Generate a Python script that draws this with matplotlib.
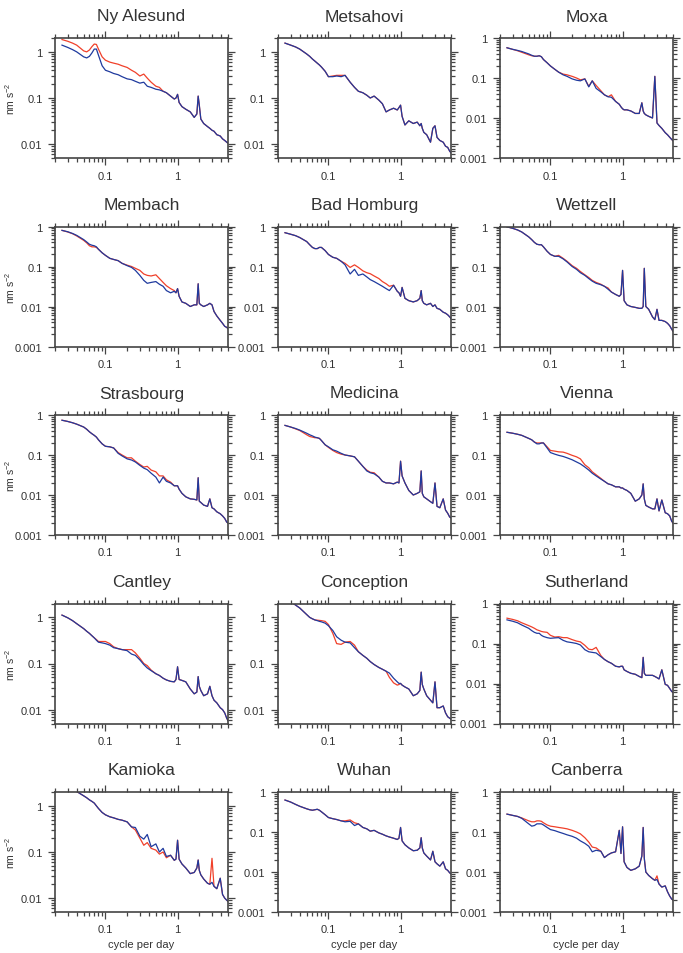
import numpy as np
import matplotlib
matplotlib.use("Agg")
import matplotlib.pyplot as plt
from matplotlib.ticker import LogLocator, FuncFormatter, NullFormatter

plt.rcParams['font.family'] = ['Liberation Sans', 'DejaVu Sans']
plt.rcParams['mathtext.default'] = 'regular'

# frequency grid (cycle per day)
freq = [0.025, 0.03, 0.035, 0.04, 0.05, 0.055, 0.06, 0.065, 0.07, 0.075, 0.08, 0.09, 0.1,
        0.115, 0.13, 0.15, 0.17, 0.2, 0.23, 0.26, 0.3, 0.34, 0.38, 0.43, 0.5, 0.56,
        0.63, 0.7, 0.8, 0.9, 0.95, 1.0, 1.05, 1.15, 1.3, 1.5, 1.7, 1.85, 1.93,
        2.0, 2.1, 2.3, 2.6, 2.8, 3.0, 3.2, 3.5, 3.9, 4.2, 4.5, 4.8, 5.0]

stations = ["Ny Alesund", "Metsahovi", "Moxa",
            "Membach", "Bad Homburg", "Wettzell",
            "Strasbourg", "Medicina", "Vienna",
            "Cantley", "Conception", "Sutherland",
            "Kamioka", "Wuhan", "Canberra"]

y_low = [0.005, 0.005, 0.001, 0.001, 0.001, 0.001, 0.001, 0.001, 0.001,
         0.005, 0.005, 0.001, 0.005, 0.001, 0.001]
y_high = [2, 2, 1, 1, 1, 1, 1, 1, 1, 2, 2, 1, 2, 1, 1]

ny_alesund_red = [1.85, 1.7, 1.55, 1.4, 1.05, 1.0, 1.1, 1.3, 1.48, 1.45, 1.15, 0.78, 0.66,
                  0.6, 0.57, 0.54, 0.5, 0.46, 0.4, 0.36, 0.3, 0.33, 0.27, 0.22, 0.18, 0.17,
                  0.14, 0.13, 0.11, 0.095, 0.1, 0.12, 0.08, 0.065, 0.057, 0.05, 0.038, 0.045, 0.11,
                  0.07, 0.035, 0.028, 0.024, 0.022, 0.02, 0.019, 0.016, 0.015, 0.013, 0.012, 0.011, 0.0105]
ny_alesund_blue = [1.4, 1.25, 1.12, 1.0, 0.78, 0.74, 0.8, 0.95, 1.15, 1.15, 0.85, 0.5, 0.4,
                   0.37, 0.34, 0.32, 0.29, 0.26, 0.25, 0.23, 0.21, 0.22, 0.18, 0.17, 0.155, 0.15,
                   0.14, 0.13, 0.11, 0.095, 0.1, 0.12, 0.08, 0.065, 0.057, 0.05, 0.038, 0.045, 0.11,
                   0.07, 0.035, 0.028, 0.024, 0.022, 0.02, 0.019, 0.016, 0.015, 0.013, 0.012, 0.011, 0.0105]

metsahovi_red = [1.55, 1.4, 1.28, 1.15, 0.9, 0.8, 0.7, 0.63, 0.57, 0.52, 0.47, 0.38, 0.29,
                 0.3, 0.31, 0.31, 0.31, 0.22, 0.17, 0.14, 0.13, 0.115, 0.1, 0.11, 0.09, 0.075,
                 0.05, 0.055, 0.06, 0.055, 0.062, 0.07, 0.04, 0.026, 0.032, 0.028, 0.03, 0.025, 0.028,
                 0.022, 0.018, 0.016, 0.011, 0.022, 0.025, 0.014, 0.012, 0.011, 0.009, 0.0085, 0.007, 0.0065]
metsahovi_blue = [1.55, 1.4, 1.28, 1.15, 0.9, 0.8, 0.7, 0.63, 0.57, 0.52, 0.47, 0.38, 0.29,
                  0.29, 0.3, 0.29, 0.31, 0.22, 0.17, 0.14, 0.13, 0.115, 0.1, 0.11, 0.09, 0.075,
                  0.05, 0.055, 0.06, 0.055, 0.062, 0.07, 0.04, 0.026, 0.032, 0.028, 0.03, 0.025, 0.028,
                  0.022, 0.018, 0.016, 0.011, 0.022, 0.025, 0.014, 0.012, 0.011, 0.009, 0.0085, 0.007, 0.0065]

moxa_red = [0.57, 0.52, 0.48, 0.44, 0.38, 0.36, 0.35, 0.35, 0.36, 0.34, 0.29, 0.24, 0.2,
            0.165, 0.14, 0.125, 0.12, 0.11, 0.1, 0.09, 0.095, 0.062, 0.085, 0.065, 0.048, 0.038,
            0.034, 0.038, 0.026, 0.022, 0.019, 0.017, 0.016, 0.016, 0.015, 0.013, 0.013, 0.024, 0.015,
            0.013, 0.012, 0.011, 0.01, 0.11, 0.0075, 0.0065, 0.0055, 0.0043, 0.0038, 0.0033, 0.0029, 0.0027]
moxa_blue = [0.57, 0.52, 0.49, 0.46, 0.4, 0.37, 0.35, 0.35, 0.36, 0.34, 0.29, 0.24, 0.2,
             0.165, 0.14, 0.12, 0.11, 0.095, 0.088, 0.085, 0.095, 0.06, 0.085, 0.055, 0.045, 0.038,
             0.034, 0.033, 0.026, 0.022, 0.019, 0.017, 0.016, 0.016, 0.015, 0.013, 0.013, 0.024, 0.015,
             0.013, 0.012, 0.011, 0.01, 0.11, 0.0075, 0.0065, 0.0055, 0.0043, 0.0038, 0.0033, 0.0029, 0.0027]

membach_red = [0.8, 0.73, 0.66, 0.58, 0.45, 0.39, 0.33, 0.31, 0.31, 0.3, 0.27, 0.22, 0.19,
               0.16, 0.15, 0.14, 0.12, 0.108, 0.1, 0.09, 0.08, 0.065, 0.06, 0.058, 0.062, 0.05,
               0.04, 0.033, 0.028, 0.025, 0.022, 0.028, 0.018, 0.013, 0.012, 0.01, 0.011, 0.011, 0.037,
               0.012, 0.011, 0.01, 0.011, 0.012, 0.011, 0.0075, 0.0058, 0.0045, 0.0038, 0.0032, 0.003, 0.0028]
membach_blue = [0.8, 0.74, 0.67, 0.6, 0.47, 0.41, 0.36, 0.34, 0.33, 0.31, 0.27, 0.22, 0.19,
                0.16, 0.15, 0.14, 0.12, 0.105, 0.095, 0.08, 0.06, 0.045, 0.038, 0.04, 0.042, 0.036,
                0.032, 0.025, 0.022, 0.024, 0.022, 0.028, 0.018, 0.013, 0.012, 0.01, 0.011, 0.011, 0.037,
                0.012, 0.011, 0.01, 0.011, 0.012, 0.011, 0.0075, 0.0058, 0.0045, 0.0038, 0.0032, 0.003, 0.0028]

bad_homburg_red = [0.7, 0.64, 0.59, 0.53, 0.42, 0.35, 0.3, 0.28, 0.28, 0.3, 0.3, 0.25, 0.2,
                   0.17, 0.16, 0.135, 0.12, 0.095, 0.11, 0.095, 0.078, 0.07, 0.066, 0.058, 0.05, 0.042,
                   0.037, 0.032, 0.034, 0.024, 0.022, 0.018, 0.03, 0.016, 0.014, 0.013, 0.014, 0.016, 0.025,
                   0.014, 0.012, 0.011, 0.012, 0.01, 0.011, 0.009, 0.0085, 0.0072, 0.0068, 0.0062, 0.0055, 0.005]
bad_homburg_blue = [0.7, 0.64, 0.59, 0.53, 0.42, 0.35, 0.3, 0.28, 0.28, 0.3, 0.3, 0.25, 0.2,
                    0.17, 0.16, 0.135, 0.11, 0.065, 0.085, 0.06, 0.065, 0.055, 0.047, 0.042, 0.036, 0.032,
                    0.028, 0.025, 0.034, 0.024, 0.022, 0.018, 0.03, 0.016, 0.014, 0.013, 0.014, 0.016, 0.025,
                    0.014, 0.012, 0.011, 0.012, 0.01, 0.011, 0.009, 0.0085, 0.0072, 0.0068, 0.0062, 0.0055, 0.005]

wettzell_red = [0.98, 0.9, 0.82, 0.73, 0.55, 0.47, 0.4, 0.36, 0.35, 0.35, 0.31, 0.24, 0.2,
                0.18, 0.19, 0.16, 0.135, 0.105, 0.09, 0.075, 0.062, 0.053, 0.045, 0.04, 0.036, 0.032,
                0.029, 0.023, 0.02, 0.018, 0.02, 0.08, 0.014, 0.011, 0.01, 0.0095, 0.009, 0.009, 0.01,
                0.09, 0.01, 0.0085, 0.0055, 0.0047, 0.0085, 0.0045, 0.0045, 0.0042, 0.0038, 0.0033, 0.0027, 0.0024]
wettzell_blue = [0.98, 0.9, 0.82, 0.73, 0.55, 0.47, 0.4, 0.36, 0.35, 0.35, 0.31, 0.24, 0.2,
                 0.18, 0.18, 0.155, 0.13, 0.1, 0.085, 0.07, 0.06, 0.05, 0.043, 0.038, 0.035, 0.032,
                 0.027, 0.023, 0.02, 0.018, 0.02, 0.08, 0.014, 0.011, 0.01, 0.0095, 0.009, 0.009, 0.01,
                 0.09, 0.01, 0.0085, 0.0055, 0.0047, 0.0085, 0.0045, 0.0045, 0.0042, 0.0038, 0.0033, 0.0027, 0.0024]

strasbourg_red = [0.74, 0.69, 0.64, 0.59, 0.5, 0.44, 0.38, 0.34, 0.31, 0.28, 0.24, 0.19, 0.165,
                  0.16, 0.15, 0.115, 0.1, 0.085, 0.085, 0.07, 0.058, 0.05, 0.052, 0.042, 0.038, 0.03,
                  0.03, 0.024, 0.021, 0.017, 0.017, 0.017, 0.014, 0.011, 0.009, 0.008, 0.0078, 0.0075, 0.027,
                  0.007, 0.0065, 0.0056, 0.0052, 0.008, 0.0048, 0.0045, 0.0038, 0.0034, 0.003, 0.0026, 0.0021, 0.002]
strasbourg_blue = [0.74, 0.69, 0.64, 0.59, 0.5, 0.44, 0.38, 0.34, 0.31, 0.28, 0.24, 0.19, 0.165,
                   0.16, 0.15, 0.11, 0.095, 0.08, 0.075, 0.067, 0.055, 0.047, 0.043, 0.035, 0.028, 0.02,
                   0.028, 0.022, 0.02, 0.017, 0.017, 0.017, 0.014, 0.011, 0.009, 0.008, 0.0078, 0.0075, 0.027,
                   0.007, 0.0065, 0.0056, 0.0052, 0.008, 0.0048, 0.0045, 0.0038, 0.0034, 0.003, 0.0026, 0.0021, 0.002]

medicina_red = [0.55, 0.5, 0.45, 0.41, 0.32, 0.29, 0.28, 0.27, 0.27, 0.26, 0.23, 0.18, 0.155,
                0.13, 0.115, 0.105, 0.1, 0.095, 0.09, 0.07, 0.052, 0.042, 0.037, 0.036, 0.028, 0.022,
                0.02, 0.02, 0.019, 0.021, 0.02, 0.07, 0.03, 0.02, 0.013, 0.01, 0.011, 0.012, 0.04,
                0.011, 0.009, 0.008, 0.0068, 0.0062, 0.02, 0.0052, 0.0048, 0.008, 0.0042, 0.0035, 0.0028, 0.0027]
medicina_blue = [0.55, 0.5, 0.46, 0.42, 0.35, 0.32, 0.3, 0.28, 0.27, 0.26, 0.23, 0.18, 0.16,
                 0.135, 0.125, 0.11, 0.1, 0.095, 0.09, 0.07, 0.052, 0.04, 0.036, 0.034, 0.028, 0.022,
                 0.02, 0.02, 0.019, 0.021, 0.02, 0.07, 0.03, 0.02, 0.013, 0.01, 0.011, 0.012, 0.04,
                 0.011, 0.009, 0.008, 0.0068, 0.0062, 0.02, 0.0052, 0.0048, 0.008, 0.0042, 0.0035, 0.0028, 0.0027]

vienna_red = [0.37, 0.35, 0.33, 0.31, 0.26, 0.24, 0.21, 0.2, 0.2, 0.2, 0.2, 0.16, 0.13,
              0.125, 0.12, 0.118, 0.11, 0.098, 0.09, 0.08, 0.057, 0.048, 0.038, 0.032, 0.026, 0.022,
              0.019, 0.018, 0.016, 0.016, 0.015, 0.015, 0.014, 0.013, 0.011, 0.007, 0.008, 0.01, 0.019,
              0.008, 0.0055, 0.005, 0.0045, 0.0045, 0.008, 0.004, 0.0075, 0.0036, 0.0034, 0.003, 0.0022, 0.002]
vienna_blue = [0.37, 0.35, 0.33, 0.31, 0.26, 0.24, 0.21, 0.19, 0.19, 0.2, 0.2, 0.15, 0.115,
               0.105, 0.098, 0.092, 0.085, 0.076, 0.067, 0.06, 0.05, 0.042, 0.035, 0.03, 0.025, 0.022,
               0.019, 0.018, 0.016, 0.016, 0.015, 0.015, 0.014, 0.013, 0.011, 0.007, 0.008, 0.01, 0.019,
               0.008, 0.0055, 0.005, 0.0045, 0.0045, 0.008, 0.004, 0.0075, 0.0036, 0.0034, 0.003, 0.0022, 0.002]

cantley_red = [1.12, 0.98, 0.85, 0.73, 0.57, 0.5, 0.45, 0.4, 0.36, 0.33, 0.3, 0.3, 0.3,
               0.27, 0.23, 0.21, 0.2, 0.2, 0.2, 0.17, 0.13, 0.1, 0.09, 0.072, 0.06, 0.055,
               0.048, 0.044, 0.041, 0.04, 0.045, 0.085, 0.045, 0.043, 0.04, 0.028, 0.022, 0.024, 0.052,
               0.032, 0.026, 0.02, 0.022, 0.032, 0.02, 0.016, 0.014, 0.011, 0.01, 0.0085, 0.0065, 0.0058]
cantley_blue = [1.12, 0.98, 0.85, 0.73, 0.57, 0.5, 0.45, 0.4, 0.36, 0.32, 0.29, 0.28, 0.27,
                0.25, 0.22, 0.21, 0.2, 0.19, 0.16, 0.15, 0.12, 0.095, 0.08, 0.07, 0.06, 0.055,
                0.048, 0.044, 0.041, 0.04, 0.045, 0.085, 0.045, 0.043, 0.04, 0.028, 0.022, 0.024, 0.052,
                0.032, 0.026, 0.02, 0.022, 0.032, 0.02, 0.016, 0.014, 0.011, 0.01, 0.0085, 0.0065, 0.0058]

conception_red = [2.9, 2.2, 1.85, 1.6, 1.15, 1.0, 0.93, 0.88, 0.87, 0.86, 0.85, 0.82, 0.7,
                  0.45, 0.27, 0.26, 0.29, 0.3, 0.25, 0.18, 0.15, 0.13, 0.11, 0.095, 0.082, 0.075,
                  0.068, 0.05, 0.038, 0.034, 0.035, 0.037, 0.034, 0.031, 0.028, 0.02, 0.022, 0.026, 0.065,
                  0.035, 0.028, 0.02, 0.016, 0.014, 0.04, 0.011, 0.011, 0.012, 0.0085, 0.007, 0.0065, 0.0062]
conception_blue = [2.9, 2.2, 1.85, 1.6, 1.15, 1.0, 0.93, 0.88, 0.85, 0.82, 0.8, 0.75, 0.66,
                   0.52, 0.38, 0.32, 0.29, 0.28, 0.22, 0.18, 0.15, 0.13, 0.11, 0.095, 0.082, 0.075,
                   0.068, 0.062, 0.048, 0.04, 0.037, 0.037, 0.034, 0.031, 0.028, 0.02, 0.022, 0.026, 0.065,
                   0.035, 0.028, 0.02, 0.016, 0.014, 0.04, 0.011, 0.011, 0.012, 0.0085, 0.007, 0.0065, 0.0062]

sutherland_red = [0.43, 0.4, 0.37, 0.33, 0.28, 0.26, 0.24, 0.22, 0.21, 0.2, 0.195, 0.19, 0.16,
                  0.145, 0.148, 0.14, 0.14, 0.125, 0.115, 0.11, 0.09, 0.072, 0.07, 0.08, 0.05, 0.04,
                  0.035, 0.032, 0.027, 0.026, 0.027, 0.027, 0.022, 0.02, 0.018, 0.017, 0.015, 0.014, 0.045,
                  0.018, 0.016, 0.016, 0.016, 0.015, 0.014, 0.013, 0.022, 0.0095, 0.009, 0.0075, 0.0063, 0.006]
sutherland_blue = [0.39, 0.36, 0.33, 0.29, 0.24, 0.21, 0.19, 0.18, 0.18, 0.16, 0.15, 0.14, 0.135,
                   0.138, 0.14, 0.12, 0.11, 0.105, 0.1, 0.092, 0.07, 0.062, 0.06, 0.058, 0.047, 0.04,
                   0.035, 0.032, 0.027, 0.026, 0.027, 0.027, 0.022, 0.02, 0.018, 0.017, 0.015, 0.014, 0.045,
                   0.018, 0.016, 0.016, 0.016, 0.015, 0.014, 0.013, 0.022, 0.0095, 0.009, 0.0075, 0.0063, 0.006]

kamioka_red = [3.5, 2.9, 2.4, 2.05, 1.65, 1.5, 1.35, 1.25, 1.15, 1.0, 0.88, 0.72, 0.64,
               0.58, 0.55, 0.51, 0.49, 0.45, 0.35, 0.3, 0.2, 0.14, 0.16, 0.12, 0.11, 0.09,
               0.1, 0.075, 0.085, 0.066, 0.07, 0.18, 0.07, 0.055, 0.045, 0.034, 0.036, 0.045, 0.067,
               0.04, 0.032, 0.026, 0.021, 0.02, 0.073, 0.018, 0.016, 0.027, 0.012, 0.01, 0.009, 0.0085]
kamioka_blue = [3.5, 2.9, 2.4, 2.05, 1.65, 1.5, 1.35, 1.25, 1.15, 1.0, 0.88, 0.72, 0.64,
                0.58, 0.55, 0.51, 0.49, 0.45, 0.35, 0.34, 0.22, 0.19, 0.24, 0.13, 0.15, 0.1,
                0.12, 0.08, 0.085, 0.066, 0.07, 0.18, 0.07, 0.055, 0.045, 0.034, 0.036, 0.045, 0.067,
                0.04, 0.032, 0.026, 0.021, 0.02, 0.022, 0.018, 0.016, 0.027, 0.012, 0.01, 0.009, 0.0085]

wuhan_red = [0.63, 0.56, 0.49, 0.44, 0.38, 0.36, 0.35, 0.36, 0.37, 0.35, 0.32, 0.27, 0.23,
             0.215, 0.205, 0.19, 0.19, 0.2, 0.17, 0.16, 0.13, 0.12, 0.105, 0.11, 0.095, 0.088,
             0.08, 0.075, 0.07, 0.065, 0.07, 0.13, 0.06, 0.048, 0.04, 0.034, 0.035, 0.04, 0.072,
             0.04, 0.03, 0.025, 0.02, 0.033, 0.018, 0.016, 0.014, 0.018, 0.012, 0.011, 0.0095, 0.009]
wuhan_blue = [0.63, 0.56, 0.49, 0.44, 0.38, 0.36, 0.35, 0.36, 0.37, 0.35, 0.32, 0.27, 0.23,
              0.215, 0.205, 0.19, 0.18, 0.185, 0.145, 0.16, 0.13, 0.12, 0.105, 0.11, 0.095, 0.088,
              0.08, 0.075, 0.07, 0.065, 0.07, 0.13, 0.06, 0.048, 0.04, 0.034, 0.035, 0.04, 0.072,
              0.04, 0.03, 0.025, 0.02, 0.033, 0.018, 0.016, 0.014, 0.018, 0.012, 0.011, 0.0095, 0.009]

canberra_red = [0.28, 0.26, 0.245, 0.225, 0.19, 0.18, 0.18, 0.19, 0.19, 0.185, 0.17, 0.15, 0.14,
                0.135, 0.13, 0.125, 0.12, 0.11, 0.1, 0.09, 0.072, 0.056, 0.042, 0.04, 0.033, 0.023,
                0.027, 0.03, 0.032, 0.11, 0.029, 0.135, 0.018, 0.013, 0.011, 0.012, 0.014, 0.025, 0.13,
                0.022, 0.01, 0.0082, 0.0068, 0.0062, 0.008, 0.005, 0.0042, 0.0045, 0.0032, 0.0025, 0.0021, 0.002]
canberra_blue = [0.28, 0.26, 0.245, 0.22, 0.16, 0.14, 0.145, 0.16, 0.16, 0.16, 0.15, 0.13, 0.115,
                 0.108, 0.1, 0.092, 0.085, 0.078, 0.07, 0.06, 0.052, 0.044, 0.032, 0.035, 0.033, 0.023,
                 0.027, 0.03, 0.032, 0.11, 0.029, 0.135, 0.018, 0.013, 0.011, 0.012, 0.014, 0.025, 0.13,
                 0.022, 0.01, 0.0082, 0.0068, 0.0062, 0.0065, 0.005, 0.0042, 0.0045, 0.0032, 0.0025, 0.0021, 0.002]

red_series = [ny_alesund_red, metsahovi_red, moxa_red, membach_red, bad_homburg_red,
              wettzell_red, strasbourg_red, medicina_red, vienna_red, cantley_red,
              conception_red, sutherland_red, kamioka_red, wuhan_red, canberra_red]
blue_series = [ny_alesund_blue, metsahovi_blue, moxa_blue, membach_blue, bad_homburg_blue,
               wettzell_blue, strasbourg_blue, medicina_blue, vienna_blue, cantley_blue,
               conception_blue, sutherland_blue, kamioka_blue, wuhan_blue, canberra_blue]

W, H = 683, 954
fig = plt.figure(figsize=(W / 100, H / 100), dpi=100)

col_left = [55, 278, 500]
row_top = [39, 227.5, 416, 604.5, 793]
box_w, box_h = 173, 120
edge = '#444444'
txt = '#333333'


def fmt(v, pos):
    return f"{v:g}"


for i, name in enumerate(stations):
    r, c = divmod(i, 3)
    ax = fig.add_axes([col_left[c] / W, (H - row_top[r] - box_h) / H, box_w / W, box_h / H])
    ax.plot(freq, red_series[i], color='#f0402a', lw=0.9)
    ax.plot(freq, blue_series[i], color='#1f3a9e', lw=0.9)
    ax.set_xscale('log')
    ax.set_yscale('log')
    ax.set_xlim(0.02, 5)
    ax.set_ylim(y_low[i], y_high[i])

    for a in (ax.xaxis, ax.yaxis):
        a.set_major_locator(LogLocator(base=10))
        a.set_minor_locator(LogLocator(base=10, subs=np.arange(2, 10)))
        a.set_major_formatter(FuncFormatter(fmt))
        a.set_minor_formatter(NullFormatter())
    ax.tick_params(which='both', direction='out', top=True, right=True,
                   color=edge, width=0.9, labelsize=8, labelcolor=txt, pad=4)
    ax.tick_params(which='major', length=5)
    ax.tick_params(which='minor', length=3)
    for s in ax.spines.values():
        s.set_color(edge)
        s.set_linewidth(1.2)

    ax.text(0.5, 1 + 22 / box_h, name, transform=ax.transAxes, ha='center', va='center',
            fontsize=12.5, color=txt)
    if c == 0:
        ax.text(-45 / box_w, 0.5, 'nm s$^{-2}$', transform=ax.transAxes, rotation=90,
                ha='center', va='center', fontsize=7.5, color=txt)
    if r == 4:
        ax.text(0.5, -32 / box_h, 'cycle per day', transform=ax.transAxes,
                ha='center', va='center', fontsize=8, color=txt)

fig.savefig('out.png', dpi=100)
